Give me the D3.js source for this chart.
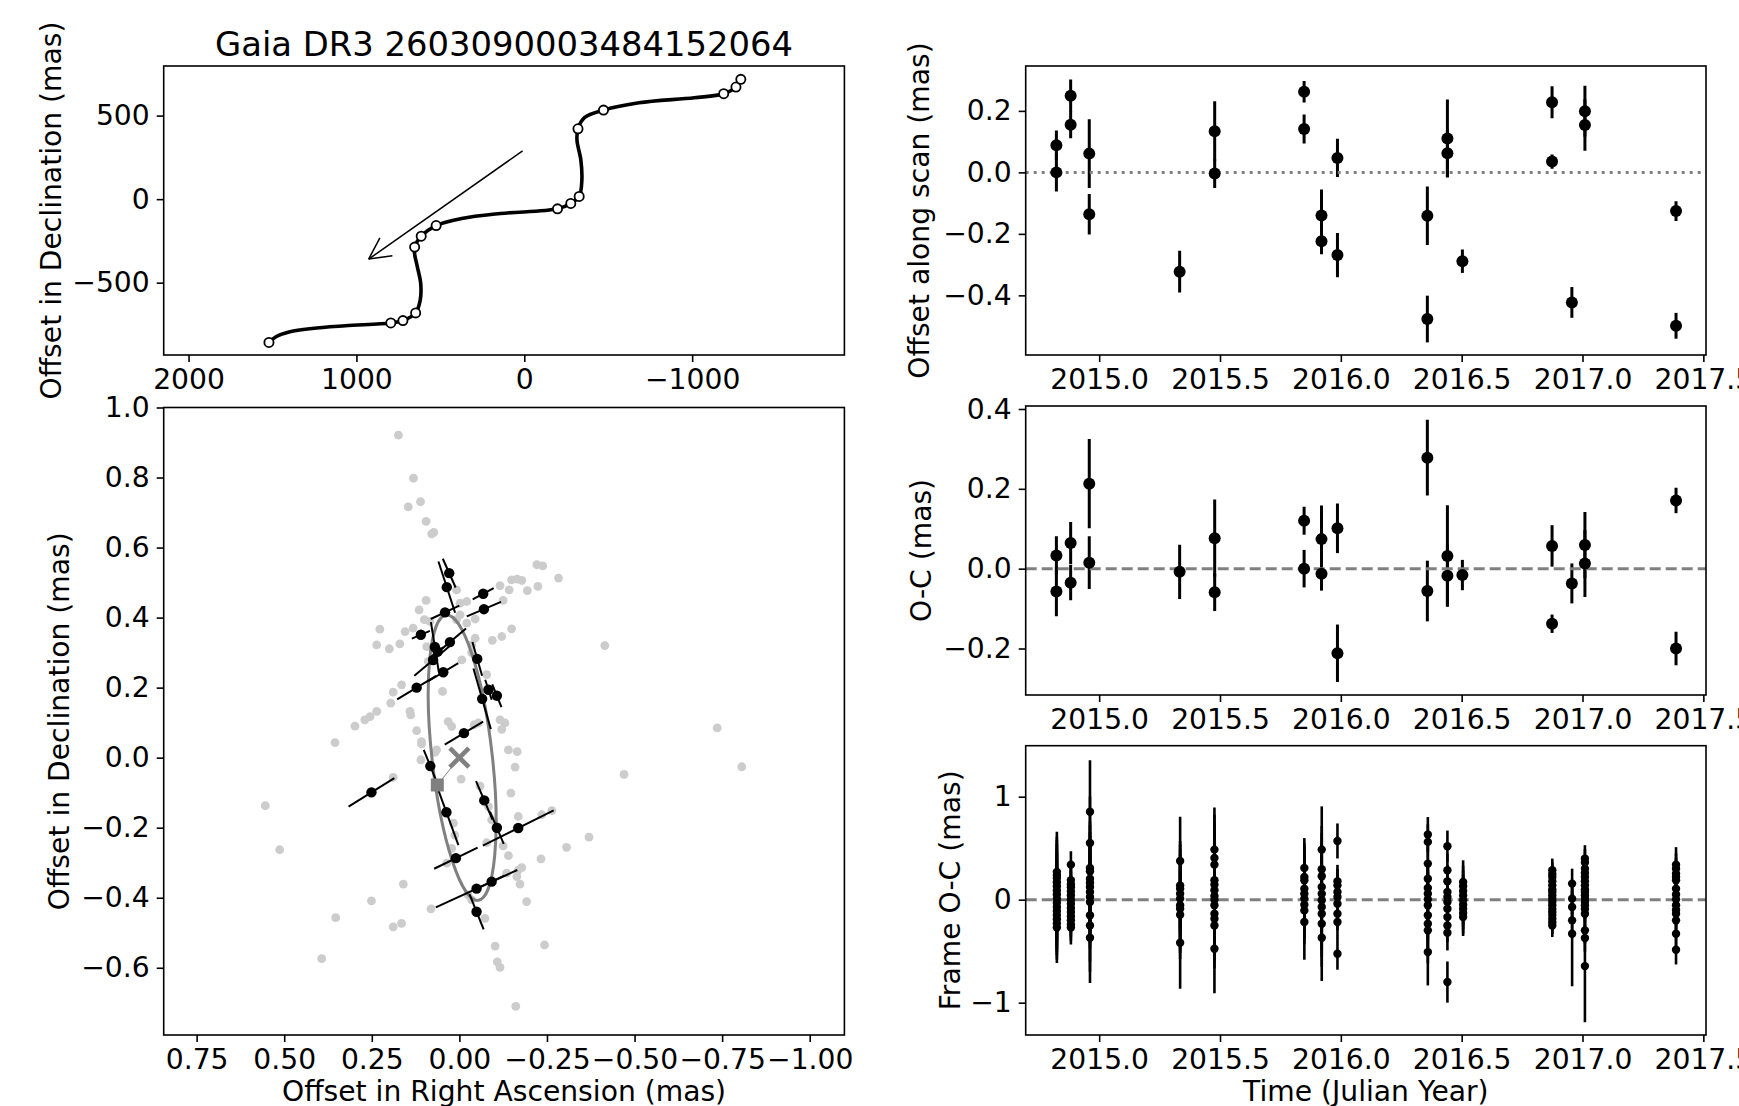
<!DOCTYPE html>
<html>
<head>
<meta charset="utf-8">
<script src="https://cdn.jsdelivr.net/npm/d3@7"></script>
<style>
  body { margin: 0; background: #fff; }
  svg text { font-family: "DejaVu Sans", sans-serif; }
</style>
</head>
<body>
<svg id="fig" width="1739" height="1106"></svg>
<script>
// ---------- sky path (top left), offsets in mas ----------
const pathRA  = [1521, 1479, 1396, 1264, 1066, 795, 723, 647, 620, 617, 637, 653, 653, 614, 525, 373, 142, -198, -277, -327, -343, -337, -314, -320, -360, -472, -683, -1013, -1188, -1261, -1290];
const pathDec = [-858, -824, -794, -774, -758, -741, -727, -681, -605, -505, -405, -330, -287, -222, -158, -116, -86, -58, -26, 16, 114, 234, 353, 421, 489, 533, 577, 607, 631, 671, 717];
const obsRA  = [1521, 795, 723, 647, 653, 614, 525, -198, -277, -327, -320, -472, -1188, -1261, -1290];
const obsDec = [-858, -741, -727, -681, -287, -222, -158, -58, -26, 16, 421, 533, 631, 671, 717];
const motionArrow = [[10, 289], [927, -359]];

// ---------- orbit panel (bottom left), mas ----------
const frameRA  = [0.174, 0.131, 0.146, 0.111, 0.095, 0.079, 0.073, -0.415, 0.355, -0.470, -0.736, -0.806, 0.554, 0.513, 0.393, 0.353, -0.161, 0.298,
  -0.221, -0.238, -0.283, -0.149, -0.165, -0.178, -0.116, -0.142, -0.194, -0.224, 0.095, 0.115, 0.008, -0.021, -0.002, -0.125, -0.045, -0.021, 0.008, -0.002, 0.100, 0.084,
  -0.149, -0.121, -0.094, -0.045, -0.035, 0.227, 0.236, 0.200, 0.170, 0.155, 0.132, 0.093, 0.089, -0.007, -0.035, -0.078, 0.048, 0.165, 0.189, 0.196, 0.141, 0.139,
  0.236, 0.255, 0.270, 0.122, 0.108, 0.108, 0.065, 0.070, 0.032, 0.022, -0.042, -0.054, -0.116, -0.130, -0.121, -0.140, -0.165, -0.159, 0.110,
  -0.005, -0.147, -0.168, -0.235, -0.264, -0.370, -0.306, -0.233, -0.140, -0.125, -0.078, -0.178, -0.164, -0.173, -0.192, 0.160, 0.251, 0.081, 0.189, 0.165,
  -0.073, -0.102, -0.243, -0.108, -0.116, -0.025, -0.035, 0.022, 0.036, 0.017, 0.013, 0.189, -0.059, -0.083, -0.092, -0.135, -0.168];
const frameDec = [0.921, 0.798, 0.716, 0.731, 0.675, 0.639, 0.643, 0.320, 0.043, -0.048, 0.085, -0.026, -0.137, -0.263, -0.574, -0.457, -0.710, 0.090,
  0.551, 0.548, 0.513, 0.508, 0.510, 0.506, 0.491, 0.479, 0.477, 0.489, 0.449, 0.422, 0.479, 0.446, 0.441, 0.449, 0.396, 0.384, 0.394, 0.408, 0.394, 0.389,
  0.368, 0.346, 0.335, 0.341, 0.322, 0.367, 0.322, 0.311, 0.325, 0.360, 0.370, 0.317, 0.275, 0.279, 0.300, 0.237, 0.189, 0.208, 0.187, 0.156, 0.132, 0.122,
  0.132, 0.117, 0.108, 0.077, 0.046, 0.039, 0.022, 0.015, 0.103, 0.089, 0.094, 0.099, 0.108, 0.099, 0.081, 0.022, 0.017, -0.027, -0.006,
  -0.061, -0.101, -0.168, -0.163, -0.151, -0.227, -0.256, -0.289, -0.280, -0.252, -0.243, -0.314, -0.340, -0.361, -0.411, -0.361, -0.409, -0.432, -0.483, -0.473,
  -0.459, -0.538, -0.535, -0.583, -0.599, -0.392, -0.406, -0.259, -0.301, -0.187, -0.221, -0.056, -0.081, -0.140, -0.178, -0.330, -0.321];

const epochRA  = [0.029, 0.036, -0.068, -0.070, 0.041, 0.110, 0.027, 0.070, 0.062, 0.075, -0.051, 0.046, 0.122, -0.083, -0.107, -0.065, -0.013, 0.083, 0.251, -0.071, 0.037, -0.107, -0.168, 0.010, -0.092, -0.049, -0.049];
const epochDec = [0.527, 0.487, 0.468, 0.424, 0.415, 0.351, 0.330, 0.316, 0.303, 0.279, 0.282, 0.244, 0.200, 0.194, 0.177, 0.168, 0.070, -0.024, -0.099, -0.122, -0.156, -0.200, -0.201, -0.287, -0.354, -0.374, -0.440];
const scanAngle = [66, 72, -28, -23, -25, -23, -40, 81, -38, -40, 74, -31, -31, 72, 68, 74, -31, 68, -32, 67, 70, 67, -26.5, -26, -25, -24.6, 68];
const scanHalf  = [0.045, 0.077, 0.034, 0.053, 0.045, 0.028, 0.06, 0.072, 0.02, 0.07, 0.05, 0.05, 0.065, 0.03, 0.035, 0.09, 0.064, 0.05, 0.077, 0.06, 0.1, 0.05, 0.113, 0.069, 0.04, 0.128, 0.054];

const orbitCentre = [-0.008, 0.0];
const orbitAxes = [0.41, 0.086];   // semi-major, semi-minor
const orbitTilt = 6.4;             // deg
const periastron = [0.063, -0.078];

// ---------- time series (right column) ----------
const epochYear = [2014.823, 2014.823, 2014.882, 2014.882, 2014.959, 2014.959, 2015.333, 2015.478, 2015.478, 2015.848, 2015.848, 2015.920, 2015.920, 2015.986, 2015.986,
  2016.358, 2016.358, 2016.441, 2016.441, 2016.503, 2016.874, 2016.874, 2016.956, 2017.010, 2017.010, 2017.387, 2017.387];
const alongScan = [0.088, 0.000, 0.249, 0.155, 0.061, -0.136, -0.323, 0.134, -0.004, 0.262, 0.141, -0.140, -0.224, 0.047, -0.269,
  -0.141, -0.477, 0.110, 0.062, -0.289, 0.228, 0.035, -0.423, 0.199, 0.154, -0.126, -0.499];
const alongScanOC = [0.033, -0.057, 0.064, -0.035, 0.213, 0.015, -0.008, 0.076, -0.059, 0.120, 0.000, 0.074, -0.013, 0.101, -0.212,
  0.278, -0.056, 0.032, -0.018, -0.016, 0.057, -0.138, -0.037, 0.059, 0.013, 0.171, -0.200];
const alongScanErr = [0.048, 0.062, 0.053, 0.044, 0.112, 0.066, 0.068, 0.097, 0.047, 0.035, 0.047, 0.084, 0.042, 0.062, 0.072,
  0.095, 0.076, 0.127, 0.077, 0.038, 0.052, 0.023, 0.05, 0.083, 0.084, 0.032, 0.042];

const frameYear = [2014.825, 2014.883, 2014.962, 2015.335, 2015.477, 2015.849, 2015.921, 2015.986, 2016.360, 2016.441, 2016.506, 2016.875, 2016.957, 2017.010, 2017.387];
const frameResid = [
  [[0.27,0.39],[0.24,0.37],[0.21,0.37],[0.17,0.37],[0.13,0.37],[0.09,0.37],[0.05,0.37],[0.01,0.37],[-0.03,0.37],[-0.07,0.37],[-0.11,0.37],[-0.15,0.36],[-0.19,0.35],[-0.23,0.35],[-0.27,0.345]],
  [[0.34,0.13],[0.19,0.16],[0.15,0.16],[0.12,0.16],[0.08,0.16],[0.04,0.16],[0.0,0.16],[-0.04,0.16],[-0.08,0.16],[-0.12,0.16],[-0.16,0.16],[-0.20,0.16],[-0.24,0.16],[-0.27,0.165]],
  [[0.853,0.5],[0.551,0.45],[0.308,0.45],[0.276,0.45],[0.204,0.45],[0.165,0.45],[0.123,0.45],[0.075,0.45],[0.026,0.45],[-0.023,0.45],[-0.152,0.45],[-0.25,0.45],[-0.37,0.44]],
  [[0.376,0.43],[0.139,0.43],[0.107,0.43],[0.058,0.43],[0.01,0.43],[-0.055,0.43],[-0.088,0.43],[-0.146,0.43],[-0.418,0.447]],
  [[0.486,0.41],[0.405,0.42],[0.34,0.42],[0.188,0.42],[0.146,0.42],[0.091,0.42],[0.036,0.42],[0.0,0.42],[-0.055,0.42],[-0.136,0.42],[-0.185,0.42],[-0.25,0.42],[-0.476,0.432]],
  [[0.308,0.29],[0.22,0.33],[0.188,0.33],[0.107,0.33],[0.058,0.33],[0.01,0.33],[-0.049,0.33],[-0.104,0.33],[-0.217,0.366]],
  [[0.486,0.42],[0.295,0.42],[0.227,0.42],[0.123,0.42],[0.058,0.42],[-0.006,0.42],[-0.071,0.42],[-0.136,0.42],[-0.233,0.42],[-0.37,0.42]],
  [[0.57,0.17],[0.178,0.16],[0.139,0.16],[0.075,0.16],[0.026,0.16],[-0.039,0.16],[-0.136,0.16],[-0.217,0.16],[-0.525,0.155]],
  [[0.632,0.17],[0.561,0.17],[0.35,0.17],[0.204,0.17],[0.113,0.17],[0.058,0.32],[0.003,0.32],[-0.055,0.32],[-0.152,0.32],[-0.233,0.32],[-0.298,0.32],[-0.509,0.324]],
  [[0.519,0.152],[0.285,0.16],[0.178,0.16],[0.075,0.16],[0.026,0.16],[-0.023,0.16],[-0.088,0.16],[-0.169,0.16],[-0.25,0.16],[-0.321,0.172],[-0.8,0.2]],
  [[0.172,0.21],[0.13,0.2],[0.084,0.2],[0.04,0.2],[-0.006,0.2],[-0.05,0.2],[-0.088,0.2],[-0.13,0.2],[-0.169,0.184]],
  [[0.285,0.114],[0.25,0.114],[0.22,0.114],[0.18,0.114],[0.139,0.114],[0.1,0.114],[0.075,0.114],[0.04,0.114],[0.01,0.114],[-0.02,0.114],[-0.055,0.114],[-0.09,0.114],[-0.12,0.114],[-0.15,0.114],[-0.185,0.114],[-0.22,0.114],[-0.25,0.113]],
  [[0.156,0.145],[0.01,0.15],[-0.071,0.15],[-0.201,0.15],[-0.331,0.51]],
  [[0.399,0.13],[0.36,0.13],[0.301,0.13],[0.26,0.13],[0.22,0.13],[0.18,0.13],[0.139,0.13],[0.1,0.13],[0.075,0.13],[0.04,0.13],[0.01,0.13],[-0.02,0.13],[-0.055,0.13],[-0.09,0.13],[-0.136,0.13],[-0.298,0.13],[-0.373,0.13],[-0.645,0.545]],
  [[0.34,0.17],[0.3,0.15],[0.253,0.15],[0.22,0.15],[0.188,0.15],[0.107,0.15],[0.05,0.15],[0.003,0.15],[-0.055,0.15],[-0.1,0.15],[-0.136,0.15],[-0.201,0.15],[-0.331,0.15],[-0.486,0.143]]
];

// ---------- ticks ----------
const skyXTicks = [2000, 1000, 0, -1000];
const skyYTicks = [-500, 0, 500];
const orbitXTicks = [0.75, 0.5, 0.25, 0, -0.25, -0.5, -0.75, -1.0];
const orbitYTicks = [-0.6, -0.4, -0.2, 0, 0.2, 0.4, 0.6, 0.8, 1.0];
const yearTicks = [2015, 2015.5, 2016, 2016.5, 2017, 2017.5];
const scanTicks = [-0.4, -0.2, 0, 0.2];
const ocTicks = [-0.2, 0, 0.2, 0.4];
const frameTicks = [-1, 0, 1];

const title = "Gaia DR3 2603090003484152064";

// ---------- layout ----------
const svg = d3.select("#fig");
const FONT = 28.2;
const boxSky   = {x0: 163.7, x1: 844.4, y0: 66,    y1: 355};
const boxOrbit = {x0: 163.7, x1: 844.4, y0: 407.5, y1: 1035};
const boxScan  = {x0: 1025.7, x1: 1706, y0: 66,    y1: 355};
const boxOC    = {x0: 1025.7, x1: 1706, y0: 406,   y1: 695};
const boxFrame = {x0: 1025.7, x1: 1706, y0: 745.7, y1: 1035};

function scales(box, xDom, yDom) {
  return {
    x: d3.scaleLinear().domain(xDom).range([box.x0, box.x1]),
    y: d3.scaleLinear().domain(yDom).range([box.y1, box.y0])
  };
}

function drawAxes(box, s, xTicks, xFmt, yTicks, yFmt) {
  const styleAxis = g => {
    g.attr("font-size", FONT).attr("font-family", "DejaVu Sans");
    g.select(".domain").remove();
    g.selectAll(".tick line").attr("stroke-width", 1.6);
    g.selectAll(".tick text").attr("fill", "#000");
  };
  svg.append("g").attr("transform", `translate(0,${box.y1})`)
    .call(d3.axisBottom(s.x).tickValues(xTicks).tickFormat(xFmt).tickSize(7).tickPadding(7))
    .call(styleAxis);
  svg.append("g").attr("transform", `translate(${box.x0},0)`)
    .call(d3.axisLeft(s.y).tickValues(yTicks).tickFormat(yFmt).tickSize(7).tickPadding(7))
    .call(styleAxis);
  svg.append("rect")
    .attr("x", box.x0).attr("y", box.y0)
    .attr("width", box.x1 - box.x0).attr("height", box.y1 - box.y0)
    .attr("fill", "none").attr("stroke", "#000").attr("stroke-width", 1.6);
}

function yLabel(x, yc, txt) {
  svg.append("text")
    .attr("transform", `translate(${x},${yc}) rotate(-90)`)
    .attr("text-anchor", "middle").attr("dy", "0.35em")
    .attr("font-size", FONT).text(txt);
}

function clipFor(id, box) {
  svg.append("clipPath").attr("id", id).append("rect")
    .attr("x", box.x0).attr("y", box.y0)
    .attr("width", box.x1 - box.x0).attr("height", box.y1 - box.y0);
  return svg.append("g").attr("clip-path", `url(#${id})`);
}

// ================= top left: sky path =================
const sky = scales(boxSky, [2148, -1907], [-933, 797]);
const gSky = clipFor("clipSky", boxSky);
const pathPts = pathRA.map((r, i) => [r, pathDec[i]]);
gSky.append("path")
  .attr("d", d3.line().x(d => sky.x(d[0])).y(d => sky.y(d[1])).curve(d3.curveCatmullRom.alpha(0.5))(pathPts))
  .attr("fill", "none").attr("stroke", "#000").attr("stroke-width", 3.6);
gSky.selectAll("circle.obs").data(obsRA.map((r, i) => [r, obsDec[i]])).join("circle")
  .attr("cx", d => sky.x(d[0])).attr("cy", d => sky.y(d[1])).attr("r", 4.6)
  .attr("fill", "#fff").attr("stroke", "#000").attr("stroke-width", 1.8);

// proper motion arrow
{
  const [a, b] = motionArrow;
  const x1 = sky.x(a[0]), y1 = sky.y(a[1]), x2 = sky.x(b[0]), y2 = sky.y(b[1]);
  const ang = Math.atan2(y1 - y2, x1 - x2);
  const len = 24, spread = 27 * Math.PI / 180;
  gSky.append("line").attr("x1", x1).attr("y1", y1).attr("x2", x2).attr("y2", y2)
    .attr("stroke", "#000").attr("stroke-width", 1.5);
  [-spread, spread].forEach(sp => {
    gSky.append("line").attr("x1", x2).attr("y1", y2)
      .attr("x2", x2 + len * Math.cos(ang + sp)).attr("y2", y2 + len * Math.sin(ang + sp))
      .attr("stroke", "#000").attr("stroke-width", 1.5);
  });
}
drawAxes(boxSky, sky, skyXTicks, d3.format("d"), skyYTicks, d3.format("d"));
yLabel(51, (boxSky.y0 + boxSky.y1) / 2, "Offset in Declination (mas)");
svg.append("text").attr("x", (boxSky.x0 + boxSky.x1) / 2).attr("y", 56)
  .attr("text-anchor", "middle").attr("font-size", 33.8).text(title);

// ================= bottom left: orbit =================
const orb = scales(boxOrbit, [0.844, -1.099], [-0.792, 1.0]);
const gOrb = clipFor("clipOrb", boxOrbit);
gOrb.selectAll("circle.frame").data(frameRA.map((r, i) => [r, frameDec[i]])).join("circle")
  .attr("cx", d => orb.x(d[0])).attr("cy", d => orb.y(d[1])).attr("r", 4.4)
  .attr("fill", "#cccccc");

{
  const cx = orb.x(orbitCentre[0]), cy = orb.y(orbitCentre[1]);
  gOrb.append("ellipse")
    .attr("cx", cx).attr("cy", cy)
    .attr("rx", Math.abs(orb.x(orbitAxes[1]) - orb.x(0)))
    .attr("ry", Math.abs(orb.y(orbitAxes[0]) - orb.y(0)))
    .attr("transform", `rotate(${-orbitTilt},${cx},${cy})`)
    .attr("fill", "none").attr("stroke", "#808080").attr("stroke-width", 3);
}

const epochs = epochRA.map((r, i) => ({ra: r, dec: epochDec[i], a: scanAngle[i] * Math.PI / 180, h: scanHalf[i]}));
gOrb.selectAll("line.scan").data(epochs).join("line")
  .attr("x1", d => orb.x(d.ra + d.h * Math.cos(d.a))).attr("y1", d => orb.y(d.dec + d.h * Math.sin(d.a)))
  .attr("x2", d => orb.x(d.ra - d.h * Math.cos(d.a))).attr("y2", d => orb.y(d.dec - d.h * Math.sin(d.a)))
  .attr("stroke", "#000").attr("stroke-width", 2);
gOrb.selectAll("circle.epoch").data(epochs).join("circle")
  .attr("cx", d => orb.x(d.ra)).attr("cy", d => orb.y(d.dec)).attr("r", 5.2)
  .attr("fill", "#000");

// centre cross, periastron square and connector
gOrb.append("line")
  .attr("x1", orb.x(0)).attr("y1", orb.y(0)).attr("x2", orb.x(periastron[0])).attr("y2", orb.y(periastron[1]))
  .attr("stroke", "#808080").attr("stroke-width", 1);
[[-1, -1, 1, 1], [-1, 1, 1, -1]].forEach(c => {
  gOrb.append("line")
    .attr("x1", orb.x(0) + 9.5 * c[0]).attr("y1", orb.y(0) + 9.5 * c[1])
    .attr("x2", orb.x(0) + 9.5 * c[2]).attr("y2", orb.y(0) + 9.5 * c[3])
    .attr("stroke", "#808080").attr("stroke-width", 4.6);
});
gOrb.append("rect")
  .attr("x", orb.x(periastron[0]) - 6.5).attr("y", orb.y(periastron[1]) - 6.5)
  .attr("width", 13).attr("height", 13).attr("fill", "#808080");

drawAxes(boxOrbit, orb, orbitXTicks, d3.format(".2f"), orbitYTicks, d3.format(".1f"));
yLabel(59, (boxOrbit.y0 + boxOrbit.y1) / 2, "Offset in Declination (mas)");
svg.append("text").attr("x", (boxOrbit.x0 + boxOrbit.x1) / 2).attr("y", 1101)
  .attr("text-anchor", "middle").attr("font-size", FONT).text("Offset in Right Ascension (mas)");

// ================= right column =================
const yearDom = [2014.696, 2017.511];

function errorPanel(box, yDom, vals, errs, years, lw) {
  const s = scales(box, yearDom, yDom);
  const g = clipFor("clip" + Math.round(box.y0), box);
  const pts = vals.map((v, i) => ({t: years[i], v: v, e: errs[i]}));
  g.selectAll("line.err").data(pts).join("line")
    .attr("x1", d => s.x(d.t)).attr("x2", d => s.x(d.t))
    .attr("y1", d => s.y(d.v - d.e)).attr("y2", d => s.y(d.v + d.e))
    .attr("stroke", "#000").attr("stroke-width", lw);
  return {s, g, pts};
}

// along-scan offsets
{
  const p = errorPanel(boxScan, [-0.594, 0.346], alongScan, alongScanErr, epochYear, 3);
  p.g.append("line").attr("x1", boxScan.x0).attr("x2", boxScan.x1)
    .attr("y1", p.s.y(0)).attr("y2", p.s.y(0))
    .attr("stroke", "#808080").attr("stroke-width", 3).attr("stroke-dasharray", "3,5");
  p.g.selectAll("circle.pt").data(p.pts).join("circle")
    .attr("cx", d => p.s.x(d.t)).attr("cy", d => p.s.y(d.v)).attr("r", 6).attr("fill", "#000");
  drawAxes(boxScan, p.s, yearTicks, d3.format(".1f"), scanTicks, d3.format(".1f"));
  yLabel(919, (boxScan.y0 + boxScan.y1) / 2, "Offset along scan (mas)");
}

// O-C
{
  const p = errorPanel(boxOC, [-0.3165, 0.4075], alongScanOC, alongScanErr, epochYear, 3);
  p.g.append("line").attr("x1", boxOC.x0).attr("x2", boxOC.x1)
    .attr("y1", p.s.y(0)).attr("y2", p.s.y(0))
    .attr("stroke", "#808080").attr("stroke-width", 3).attr("stroke-dasharray", "11,5");
  p.g.selectAll("circle.pt").data(p.pts).join("circle")
    .attr("cx", d => p.s.x(d.t)).attr("cy", d => p.s.y(d.v)).attr("r", 6).attr("fill", "#000");
  drawAxes(boxOC, p.s, yearTicks, d3.format(".1f"), ocTicks, d3.format(".1f"));
  yLabel(921, (boxOC.y0 + boxOC.y1) / 2, "O-C (mas)");
}

// frame O-C
{
  const years = [], vals = [], errs = [];
  frameResid.forEach((col, i) => col.forEach(([v, e]) => { years.push(frameYear[i]); vals.push(v); errs.push(e); }));
  const p = errorPanel(boxFrame, [-1.314, 1.495], vals, errs, years, 2.6);
  p.g.append("line").attr("x1", boxFrame.x0).attr("x2", boxFrame.x1)
    .attr("y1", p.s.y(0)).attr("y2", p.s.y(0))
    .attr("stroke", "#808080").attr("stroke-width", 3).attr("stroke-dasharray", "11,5");
  p.g.selectAll("circle.pt").data(p.pts).join("circle")
    .attr("cx", d => p.s.x(d.t)).attr("cy", d => p.s.y(d.v)).attr("r", 4.2).attr("fill", "#000");
  drawAxes(boxFrame, p.s, yearTicks, d3.format(".1f"), frameTicks, d3.format("d"));
  yLabel(950, (boxFrame.y0 + boxFrame.y1) / 2, "Frame O-C (mas)");
  svg.append("text").attr("x", (boxFrame.x0 + boxFrame.x1) / 2).attr("y", 1101)
    .attr("text-anchor", "middle").attr("font-size", FONT).text("Time (Julian Year)");
}
</script>
</body>
</html>
